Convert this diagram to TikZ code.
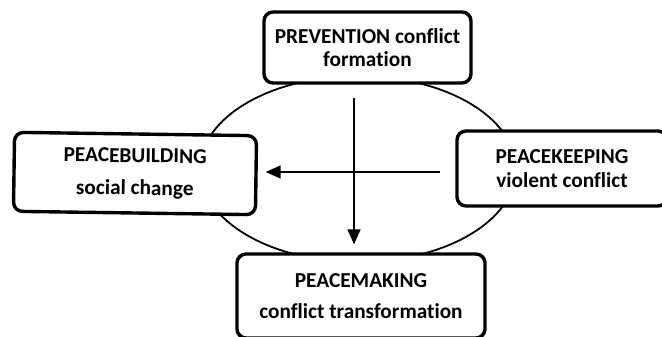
\documentclass[tikz,border=0pt]{standalone}
\usepackage{fontspec}
\setmainfont{Carlito}[Ligatures=NoCommon]
\usetikzlibrary{arrows.meta,shapes.geometric}
\begin{document}
\begin{tikzpicture}[x=1pt,y=1pt,
  stage/.style={draw=black, fill=white, line width=3.4pt, rounded corners=9pt,
    align=center, inner sep=0pt,
    font=\fontsize{21.3}{23.5}\selectfont\bfseries},
  flow/.style={line width=1.5pt, -{Triangle[length=15pt,width=13pt]}}]
  \useasboundingbox[fill=white] (0,0) rectangle (662,337);

  % central ring behind the four stages
  \node[ellipse, draw, line width=1.8pt, minimum width=316pt, minimum height=186pt,
        inner sep=0pt] (ring) at (358,168) {};

  % the four stages
  \node[stage, minimum width=207pt, minimum height=71pt] (prev) at (367.5,289.5)
    {PREVENTION conflict\\formation};
  \node[stage, minimum width=242pt, minimum height=79pt, rotate=-0.8] (build) at (135,163.5)
    {PEACEBUILDING\\[9pt]social change};
  \node[stage, minimum width=210pt, minimum height=75pt] (keep) at (562,168.5)
    {PEACEKEEPING\\violent conflict};
  \node[stage, minimum width=248pt, minimum height=84pt] (make) at (361,41)
    {PEACEMAKING\\[8pt]conflict transformation};

  % axes of the two arrows
  \coordinate (axisV) at (354,0);
  \coordinate (axisH) at (0,165);

  \draw[flow, shorten <=13pt, shorten >=8pt] (prev.south -| axisV) -- (make.north -| axisV);
  \draw[flow, shorten <=15pt, shorten >=8pt] (keep.west |- axisH) -- (build.east |- axisH);
\end{tikzpicture}
\end{document}
